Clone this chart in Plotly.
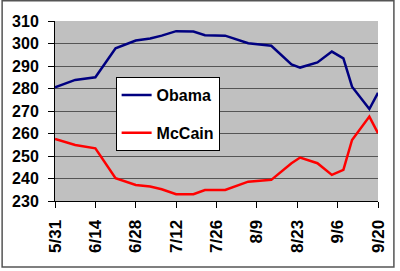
import plotly.graph_objects as go

dates = ["2008-05-31", "2008-06-07", "2008-06-14", "2008-06-21", "2008-06-28",
         "2008-07-03", "2008-07-07", "2008-07-12", "2008-07-18", "2008-07-22",
         "2008-07-29", "2008-08-06", "2008-08-14", "2008-08-21", "2008-08-24",
         "2008-08-30", "2008-09-04", "2008-09-08", "2008-09-11", "2008-09-17",
         "2008-09-20"]
obama = [280.5, 283.8, 285.0, 297.9, 301.3, 302.2, 303.5, 305.5, 305.3, 303.7,
         303.5, 300.1, 299.0, 290.7, 289.3, 291.6, 296.4, 293.4, 280.8, 270.9,
         278.1]
mccain = [257.6, 254.9, 253.4, 240.1, 237.1, 236.4, 235.2, 233.0, 233.0, 234.9,
          234.9, 238.6, 239.4, 246.8, 249.3, 246.8, 241.6, 243.8, 257.1, 267.5,
          260.1]
tick_dates = ["2008-05-31", "2008-06-14", "2008-06-28", "2008-07-12", "2008-07-26",
              "2008-08-09", "2008-08-23", "2008-09-06", "2008-09-20"]
tick_labels = ["5/31", "6/14", "6/28", "7/12", "7/26", "8/9", "8/23", "9/6", "9/20"]
y_ticks = [230, 240, 250, 260, 270, 280, 290, 300, 310]

FONT = "Liberation Sans, Arial, sans-serif"

fig = go.Figure()
fig.add_trace(go.Scatter(x=dates, y=obama, mode="lines", name="Obama",
                         line=dict(color="#000080", width=2.5), legendgroup="a"))
fig.add_trace(go.Scatter(x=dates, y=mccain, mode="lines", name="McCain",
                         line=dict(color="#FF0000", width=2.5), legendgroup="b"))

W, H = 400, 271
ml, mr, mt, mb = 54, 21, 21, 70
pw, ph = W - ml - mr, H - mt - mb

def px(x):
    return (x - ml) / pw

def py(y):
    return (H - mb - y) / ph

fig.update_layout(
    width=W, height=H,
    margin=dict(l=ml, r=mr, t=mt, b=mb),
    paper_bgcolor="white",
    plot_bgcolor="#C0C0C0",
    font=dict(family=FONT, size=16, color="black", weight="bold"),
    showlegend=True,
    legend=dict(x=px(115), y=py(77), xanchor="left", yanchor="top",
                bgcolor="white", bordercolor="black", borderwidth=1,
                font=dict(family=FONT, size=16, color="black", weight="bold"),
                tracegroupgap=14, itemwidth=30),
    shapes=[dict(type="rect", xref="paper", yref="paper",
                 x0=px(0.8), x1=px(395), y0=py(267), y1=py(0.8),
                 line=dict(color="#555555", width=1.5), layer="below")],
)
fig.update_xaxes(
    type="date",
    range=["2008-05-31", "2008-09-20"],
    tickvals=tick_dates, ticktext=tick_labels, tickangle=-90,
    ticks="outside", ticklen=6, tickcolor="black",
    showline=True, linecolor="black", linewidth=1,
    showgrid=False, zeroline=False,
    tickfont=dict(family=FONT, size=17, color="black", weight="bold"),
    ticklabelstandoff=5,
)
fig.update_yaxes(
    range=[230, 310], tickvals=y_ticks,
    ticks="outside", ticklen=6, tickcolor="black",
    showline=True, linecolor="black", linewidth=1,
    showgrid=True, gridcolor="#555555", gridwidth=1, zeroline=False,
    tickfont=dict(family=FONT, size=16, color="black", weight="bold"),
    ticklabelstandoff=6,
)

fig.write_html("out.html")
